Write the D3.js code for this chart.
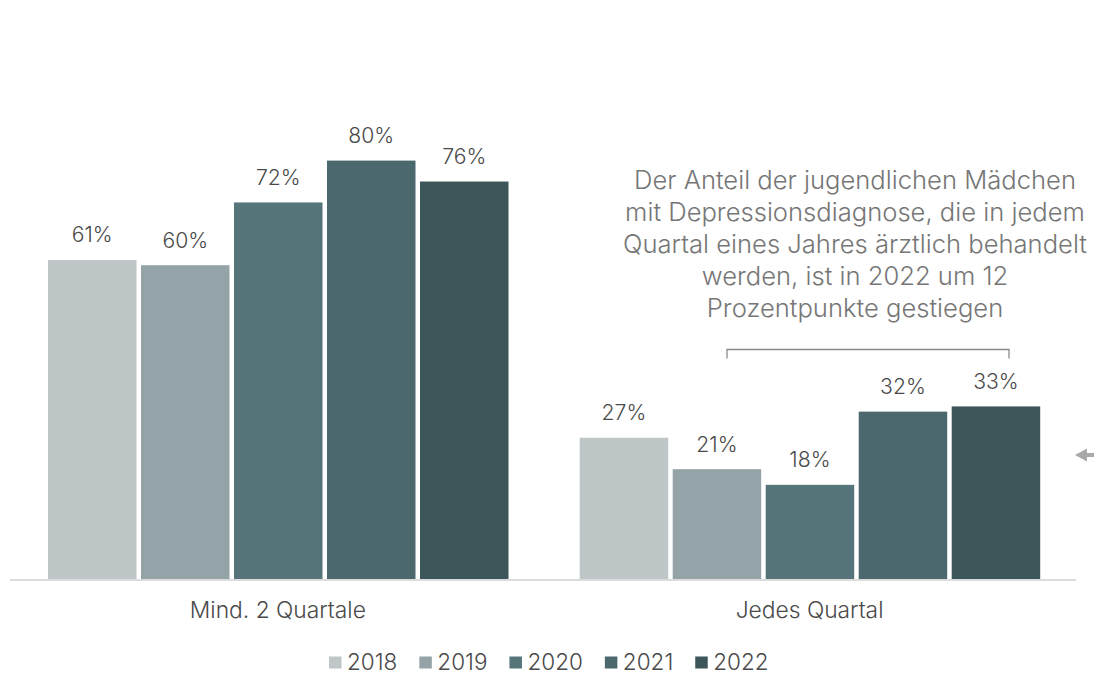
<!DOCTYPE html>
<html>
<head>
<meta charset="utf-8">
<script src="https://cdn.jsdelivr.net/npm/d3@7"></script>
<style>
  html, body { margin: 0; padding: 0; background: #fff; }
  svg { display: block; font-family: Inter, Roboto, "Noto Sans", sans-serif; }
</style>
</head>
<body>
<svg id="chart" width="1094" height="673"></svg>
<script>
const categories = ["Mind. 2 Quartale", "Jedes Quartal"];
const years = ["2018", "2019", "2020", "2021", "2022"];
const values2018 = [61, 27];
const values2019 = [60, 21];
const values2020 = [72, 18];
const values2021 = [80, 32];
const values2022 = [76, 33];
const seriesValues = [values2018, values2019, values2020, values2021, values2022];
const colors = ["#bec6c7", "#94a3a7", "#55757a", "#4b686e", "#3d565a"];
const annotationLines = [
  "Der Anteil der jugendlichen Mädchen",
  "mit Depressionsdiagnose, die in jedem",
  "Quartal eines Jahres ärztlich behandelt",
  "werden, ist in 2022 um 12",
  "Prozentpunkte gestiegen"
];

const svg = d3.select("#chart");
const baseY = 579;

const x0 = d3.scaleBand().domain(categories).range([11, 1074.4]).padding(0);
const x1 = d3.scaleBand().domain(years).range([37, 497.5]).paddingInner(0.0484).paddingOuter(0);
const y = d3.scaleLinear().domain([0, 100]).range([baseY, 56]);
const color = d3.scaleOrdinal().domain(years).range(colors);

const rows = [];
categories.forEach((c, ci) => {
  years.forEach((yr, yi) => rows.push({ cat: c, year: yr, value: seriesValues[yi][ci] }));
});

// axis baseline
svg.append("line")
  .attr("x1", 10).attr("x2", 1076)
  .attr("y1", baseY + 1).attr("y2", baseY + 1)
  .attr("stroke", "#dcdcdc").attr("stroke-width", 2);

// bars
svg.append("g").selectAll("rect").data(rows).join("rect")
  .attr("x", d => x0(d.cat) + x1(d.year))
  .attr("y", d => y(d.value))
  .attr("width", x1.bandwidth())
  .attr("height", d => baseY - y(d.value))
  .attr("fill", d => color(d.year));

// value labels
svg.append("g").selectAll("text").data(rows).join("text")
  .attr("x", d => x0(d.cat) + x1(d.year) + x1.bandwidth() / 2)
  .attr("y", d => y(d.value) - 17.5)
  .attr("text-anchor", "middle")
  .attr("font-size", 21.2)
  .attr("font-weight", 300)
  .attr("fill", "#4a4a4a")
  .text(d => d.value + "%");

// category labels
svg.append("g").selectAll("text").data(categories).join("text")
  .attr("x", d => x0(d) + x0.bandwidth() / 2 + 1)
  .attr("y", 617.5)
  .attr("text-anchor", "middle")
  .attr("font-size", 22.8)
  .attr("font-weight", 300)
  .attr("fill", "#4a4a4a")
  .text(d => d);

// annotation text
svg.append("g").selectAll("text").data(annotationLines).join("text")
  .attr("x", 855)
  .attr("y", (d, i) => 188.5 + i * 32)
  .attr("text-anchor", "middle")
  .attr("font-size", 25.6)
  .attr("font-weight", 300)
  .attr("fill", "#767676")
  .text(d => d);

// bracket
svg.append("path")
  .attr("d", "M727,358.5 V349.5 H1009 V358.5")
  .attr("fill", "none")
  .attr("stroke", "#8a8a8a")
  .attr("stroke-width", 1.3);

// arrow at right edge
svg.append("path")
  .attr("d", "M1075,455 L1087,448.5 L1087,453 L1094,453 L1094,457 L1087,457 L1087,461.5 Z")
  .attr("fill", "#a8a8a8");

// legend
const legend = svg.append("g");
let lx = 329;
years.forEach((yr, i) => {
  legend.append("rect")
    .attr("x", lx).attr("y", 656.5)
    .attr("width", 12.5).attr("height", 12)
    .attr("fill", colors[i]);
  const t = legend.append("text")
    .attr("x", lx + 18).attr("y", 669.5)
    .attr("font-size", 22.5)
    .attr("font-weight", 300)
    .attr("fill", "#4a4a4a")
    .text(yr);
  const w = t.node().getComputedTextLength();
  lx += 18 + w + 22;
});
</script>
</body>
</html>
